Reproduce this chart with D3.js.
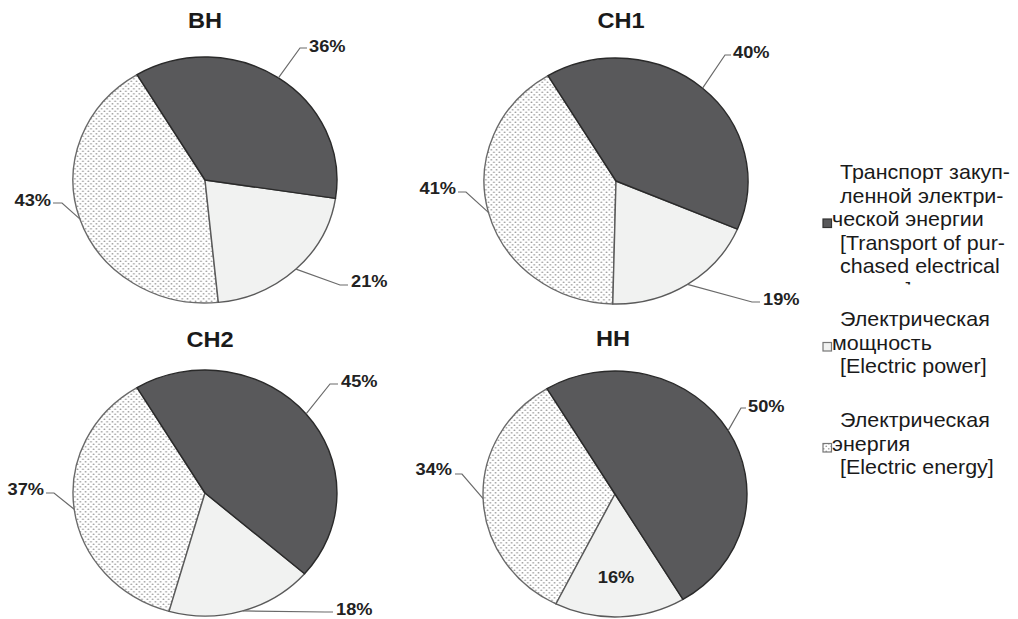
<!DOCTYPE html>
<html>
<head>
<meta charset="utf-8">
<script src="https://cdn.jsdelivr.net/npm/d3@7"></script>
<style>
  body { margin: 0; background: #fff; }
  svg { display: block; }
</style>
</head>
<body>
<svg id="chart" width="1018" height="619"></svg>
<script>
// ---- data ----
const regions = ["BH", "CH1", "CH2", "HH"];
const transportShare = [36, 40, 45, 50];   // Транспорт закупленной электрической энергии
const powerShare     = [21, 19, 18, 16];   // Электрическая мощность
const energyShare    = [43, 41, 37, 34];   // Электрическая энергия
const seriesKeys = ["transport", "power", "energy"];
const legendText = [
  ["Транспорт закуп-", "ленной электри-", "ческой энергии", "[Transport of pur-", "chased electrical", "energy]"],
  ["Электрическая", "мощность", "[Electric power]"],
  ["Электрическая", "энергия", "[Electric energy]"]
];
const legendMarkerLine = [2, 1, 1];

// ---- layout ----
const SX = 1.073;          // horizontal stretch of the whole figure
const R = 123;             // pie radius (vertical)
const pieCenters = [[205, 180], [616, 181], [205, 493], [615, 494]];
const titlePos   = [[205, 28], [621, 28], [210, 347], [613, 346]];
// label placement per pie, per series: anchor side, text x, text middle y, leader bend points
const labelLayout = [
  [ { side: "start", x: 309, y: 46,  path: [[300, 48], [307, 48]] },
    { side: "start", x: 351, y: 281, path: [[340, 285], [348, 285]] },
    { side: "end",   x: 51,  y: 200, path: [[62, 203], [53, 203]] } ],
  [ { side: "start", x: 733, y: 52,  path: [[725, 55], [731, 55]] },
    { side: "start", x: 763, y: 299, path: [[752, 302], [760, 302]] },
    { side: "end",   x: 456, y: 188, path: [[466, 192], [458, 192]] } ],
  [ { side: "start", x: 341, y: 381, path: [[330, 384], [338, 384]] },
    { side: "start", x: 336, y: 609, path: [[325, 612], [333, 612]] },
    { side: "end",   x: 44,  y: 489, path: [[54, 493], [46, 493]] } ],
  [ { side: "start", x: 748, y: 406, path: [[741, 408], [746, 408]] },
    { side: "inside", x: 616, y: 577, path: [] },
    { side: "end",   x: 452, y: 469, path: [[462, 474], [455, 474]] } ]
];
const legendFirstBaseline = [179, 326, 427];
const legendLineHeight = 23.5;
const legendClipBottom = 284.5;   // the first entry's text box cuts off its last line

const fills   = { transport: "#59595b", power: "#f1f2f1", energy: "url(#dots)" };
const strokes = { transport: "#2a2a2a", power: "#5a5a5a", energy: "#6a6a6a" };
const drawOrder = { energy: 0, power: 1, transport: 2 };

const svg = d3.select("#chart");
svg.append("rect").attr("width", 1018).attr("height", 619).attr("fill", "#fff");

const defs = svg.append("defs");
// dotted fill
const pat = defs.append("pattern").attr("id", "dots")
  .attr("patternUnits", "userSpaceOnUse").attr("width", 5).attr("height", 5);
pat.append("rect").attr("width", 5).attr("height", 5).attr("fill", "#ffffff");
pat.append("circle").attr("cx", 1.25).attr("cy", 1.25).attr("r", 0.85).attr("fill", "#9c9c9c");
pat.append("circle").attr("cx", 3.75).attr("cy", 3.75).attr("r", 0.85).attr("fill", "#9c9c9c");
// clip for the first legend entry
defs.append("clipPath").attr("id", "legendClip")
  .append("rect").attr("x", 800).attr("y", 0).attr("width", 218).attr("height", legendClipBottom);

const pie = d3.pie().sort(null).value(d => d.value)
  .startAngle(-31 * Math.PI / 180).endAngle(329 * Math.PI / 180);
const arc = d3.arc().innerRadius(0).outerRadius(R);
const line = d3.line();

const labelFont = "'Liberation Sans', Arial, sans-serif";

regions.forEach((name, i) => {
  const [cx, cy] = pieCenters[i];
  const values = [transportShare[i], powerShare[i], energyShare[i]];
  const data = seriesKeys.map((k, j) => ({ key: k, value: values[j] }));
  const arcs = pie(data);

  // title
  svg.append("g")
    .attr("transform", `translate(${titlePos[i][0]},${titlePos[i][1]}) scale(${SX},1)`)
    .append("text")
    .attr("text-anchor", "middle")
    .attr("font-family", labelFont).attr("font-weight", "bold")
    .attr("font-size", 22).attr("fill", "#1a1a1a")
    .text(name);

  // slices
  const g = svg.append("g").attr("transform", `translate(${cx},${cy}) scale(${SX},1)`);
  g.selectAll("path")
    .data(arcs.slice().sort((a, b) => drawOrder[a.data.key] - drawOrder[b.data.key]))
    .join("path")
    .attr("d", arc)
    .attr("fill", d => fills[d.data.key])
    .attr("stroke", d => strokes[d.data.key])
    .attr("stroke-width", 1.4)
    .attr("stroke-linejoin", "round")
    .attr("vector-effect", "non-scaling-stroke");

  // labels and leader lines
  arcs.forEach((a, j) => {
    const lay = labelLayout[i][j];
    if (lay.side !== "inside") {
      const mid = (a.startAngle + a.endAngle) / 2;
      const edge = [cx + SX * R * Math.sin(mid), cy - R * Math.cos(mid)];
      svg.append("path")
        .attr("d", line([edge, ...lay.path]))
        .attr("fill", "none").attr("stroke", "#6a6a6a").attr("stroke-width", 1.2);
    }
    svg.append("g")
      .attr("transform", `translate(${lay.x},${lay.y + 6}) scale(${SX},1)`)
      .append("text")
      .attr("text-anchor", lay.side === "inside" ? "middle" : lay.side)
      .attr("font-family", labelFont).attr("font-weight", "bold")
      .attr("font-size", 17).attr("fill", "#222")
      .text(`${a.data.value}%`);
  });
});

// legend
legendText.forEach((lines, k) => {
  const key = seriesKeys[k];
  const entry = svg.append("g");
  if (k === 0) entry.attr("clip-path", "url(#legendClip)");
  lines.forEach((t, n) => {
    const base = legendFirstBaseline[k] + n * legendLineHeight;
    const isMarker = n === legendMarkerLine[k];
    entry.append("g")
      .attr("transform", `translate(${isMarker ? 832 : 840},${base}) scale(${SX},1)`)
      .append("text")
      .attr("font-family", labelFont).attr("font-size", 20).attr("fill", "#1a1a1a")
      .text(t);
    if (isMarker) {
      svg.append("rect")
        .attr("x", 823).attr("y", base - 7).attr("width", 8.5).attr("height", 8.5)
        .attr("fill", fills[key])
        .attr("stroke", key === "transport" ? "#333" : "#777")
        .attr("stroke-width", 1.2);
    }
  });
});
</script>
</body>
</html>
